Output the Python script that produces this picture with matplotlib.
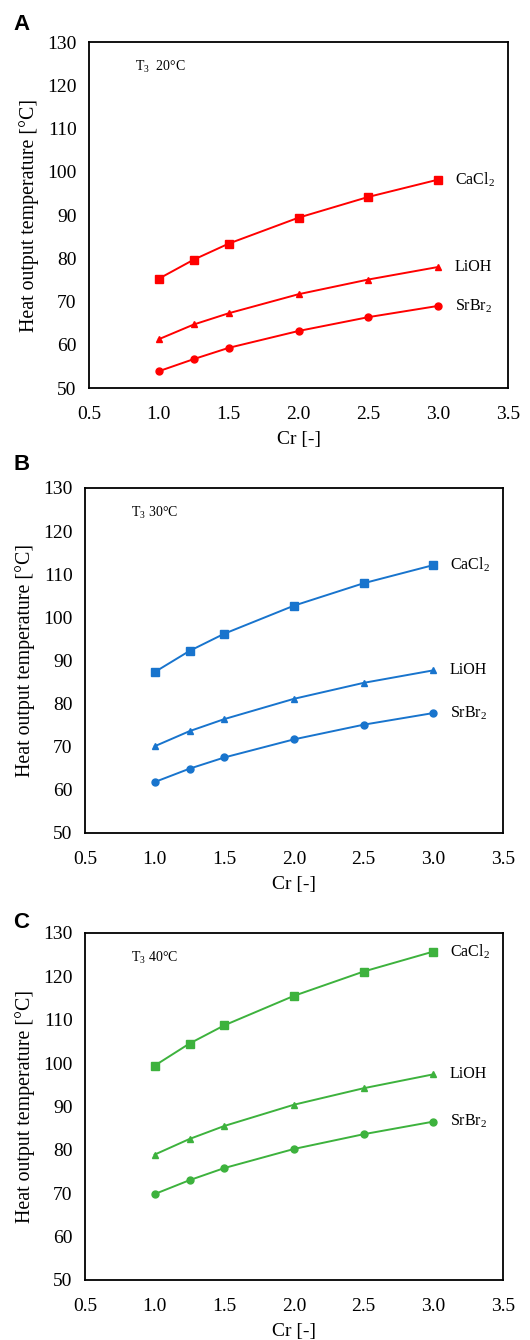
import matplotlib
matplotlib.use("Agg")
from matplotlib import pyplot as plt

plt.rcParams['font.family'] = ['Liberation Serif', 'DejaVu Serif']
plt.rcParams['mathtext.fontset'] = 'custom'
plt.rcParams['mathtext.rm'] = 'Liberation Serif'
plt.rcParams['mathtext.it'] = 'Liberation Serif:italic'

# data
cr = [1.0, 1.25, 1.5, 2.0, 2.5, 3.0]

cacl2_20 = [75.3, 79.7, 83.4, 89.4, 94.2, 98.2]
lioh_20 = [61.3, 64.7, 67.3, 71.7, 75.1, 78.0]
srbr2_20 = [53.9, 56.7, 59.3, 63.2, 66.4, 69.0]

cacl2_30 = [87.3, 92.2, 96.2, 102.7, 107.9, 112.1]
lioh_30 = [70.1, 73.6, 76.4, 81.1, 84.8, 87.7]
srbr2_30 = [61.8, 64.9, 67.5, 71.7, 75.1, 77.8]

cacl2_40 = [99.4, 104.5, 108.7, 115.5, 121.1, 125.7]
lioh_40 = [78.9, 82.5, 85.5, 90.4, 94.2, 97.4]
srbr2_40 = [69.8, 73.0, 75.8, 80.2, 83.6, 86.5]

panel_letters = ['A', 'B', 'C']
panel_notes = [r'T$_3$  20°C', r'T$_3$ 30°C', r'T$_3$ 40°C']
colors = ['#ff0000', '#1874cd', '#3db23d']
series_labels = [r'CaCl$_2$', 'LiOH', r'SrBr$_2$']
series_markers = ['s', '^', 'o']

panels = [
    [cacl2_20, lioh_20, srbr2_20],
    [cacl2_30, lioh_30, srbr2_30],
    [cacl2_40, lioh_40, srbr2_40],
]

# axes boxes in figure fractions (left, bottom, width, height)
boxes = [
    [0.168, 0.7104, 0.7906, 0.2582],
    [0.1604, 0.3784, 0.7887, 0.2575],
    [0.1604, 0.0448, 0.7887, 0.259],
]
letter_y = [1 - 25 / 1340, 1 - 465 / 1340, 1 - 923 / 1340]

fig = plt.figure(figsize=(5.3, 13.4), dpi=100)

for i in range(3):
    ax = fig.add_axes(boxes[i])
    for vals, lab, mk in zip(panels[i], series_labels, series_markers):
        ms = 5.5 if mk == 's' else 5
        ax.plot(cr, vals, color=colors[i], marker=mk, markersize=ms, linewidth=1.4)
        ax.text(3.12, vals[-1], lab, fontsize=11.5, va='center', ha='left')

    ax.text(0.83, 124.3, panel_notes[i], fontsize=10, va='center', ha='left')

    ax.set_xlim(0.5, 3.5)
    ax.set_ylim(50, 130)
    ax.set_xticks([0.5, 1.0, 1.5, 2.0, 2.5, 3.0, 3.5])
    ax.set_xticklabels(['0.5', '1.0', '1.5', '2.0', '2.5', '3.0', '3.5'])
    ax.set_yticks(range(50, 131, 10))
    ax.tick_params(length=0, labelsize=14)
    ax.tick_params(axis='x', pad=13)
    ax.tick_params(axis='y', pad=9)
    for sp in ax.spines.values():
        sp.set_linewidth(1.3)

    ax.set_xlabel('Cr [-]', fontsize=14, labelpad=6)
    ax.set_ylabel('Heat output temperature [°C]', fontsize=14.3, labelpad=6)

    fig.text(0.04, letter_y[i], panel_letters[i], fontsize=16, fontweight='bold',
             family='Liberation Sans', ha='center', va='center')

fig.savefig('out.png', dpi=100)
